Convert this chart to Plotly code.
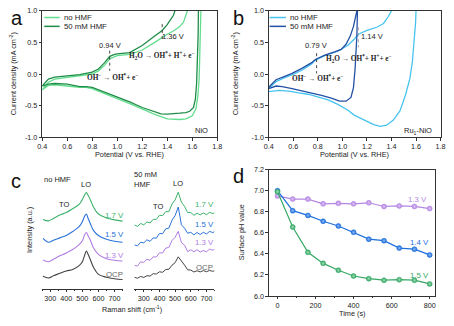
import plotly.graph_objects as go

# ---------------- data ----------------
# Panel a: NiO CV (forward branch then reverse branch)
a_noHMF_V = [0.40,0.45,0.50,0.60,0.70,0.80,0.85,0.90,0.94,0.98,1.00,1.10,1.20,1.30,1.36,1.40,1.45,1.50,1.53,1.55,1.57,
             1.67,1.665,1.66,1.655,1.645,1.63,1.60,1.55,1.50,1.45,1.40,1.30,1.20,1.10,1.00,0.90,0.85,0.80,0.75,0.70,0.60,0.50,0.45,0.40]
a_noHMF_J = [-0.25,-0.13,-0.08,-0.05,-0.03,0.00,0.05,0.14,0.24,0.28,0.29,0.31,0.38,0.50,0.58,0.63,0.68,0.75,0.82,0.92,1.05,
             1.05,0.60,0.20,-0.10,-0.35,-0.55,-0.66,-0.71,-0.72,-0.72,-0.71,-0.64,-0.55,-0.47,-0.39,-0.31,-0.27,-0.23,-0.21,-0.21,-0.19,-0.17,-0.18,-0.25]
a_HMF_V = [0.40,0.45,0.50,0.60,0.70,0.80,0.85,0.90,0.94,0.98,1.00,1.10,1.20,1.30,1.36,1.40,1.43,1.45,1.47,
           1.65,1.647,1.642,1.635,1.625,1.61,1.58,1.55,1.50,1.45,1.40,1.35,1.30,1.20,1.10,1.00,0.90,0.85,0.80,0.75,0.70,0.60,0.50,0.45,0.40]
a_HMF_J = [-0.19,-0.08,-0.05,-0.03,-0.01,0.03,0.08,0.18,0.28,0.31,0.32,0.34,0.45,0.60,0.69,0.78,0.88,0.93,1.05,
           1.05,0.60,0.20,-0.15,-0.40,-0.53,-0.59,-0.61,-0.62,-0.63,-0.635,-0.63,-0.60,-0.53,-0.44,-0.36,-0.29,-0.24,-0.21,-0.20,-0.20,-0.16,-0.15,-0.16,-0.19]

# Panel b: Ru1-NiO CV
b_noHMF_V = [0.40,0.46,0.525,0.59,0.67,0.75,0.78,0.857,0.963,1.043,1.096,1.13,1.20,1.28,1.335,1.375,1.40,1.42,
             1.61,1.60,1.596,1.585,1.57,1.55,1.516,1.47,1.415,1.36,1.31,1.256,1.20,1.15,1.096,1.043,0.963,0.884,0.80,0.72,0.645,0.565,0.485,0.40]
b_noHMF_J = [-0.23,-0.12,-0.06,-0.015,0.06,0.16,0.22,0.29,0.36,0.45,0.55,0.63,0.69,0.74,0.80,0.91,1.0,1.1,
             1.1,1.0,0.80,0.50,0.19,-0.07,-0.32,-0.58,-0.73,-0.81,-0.83,-0.80,-0.75,-0.71,-0.65,-0.57,-0.48,-0.41,-0.36,-0.32,-0.30,-0.27,-0.26,-0.28]
b_HMF_V = [0.40,0.46,0.525,0.59,0.67,0.75,0.78,0.857,0.937,0.99,1.03,1.064,1.09,1.11,1.118,1.12,
           1.124,1.123,1.118,1.104,1.09,1.07,1.03,0.977,0.91,0.83,0.75,0.67,0.59,0.51,0.46,0.40]
b_HMF_J = [-0.21,-0.09,-0.04,0.01,0.09,0.18,0.23,0.30,0.35,0.39,0.47,0.60,0.75,0.91,1.0,1.1,
           1.1,1.0,0.60,0.09,-0.22,-0.37,-0.43,-0.43,-0.38,-0.34,-0.30,-0.26,-0.23,-0.20,-0.19,-0.23]

# Panel c: Raman spectra (intensity, a.u., offset)
c_left_x = [255,290,320,360,400,440,480,500,515,525,535,550,570,600,650,700,750]
c_left_17 = [71.5,70,72.5,76,78.5,82.5,87,92,97,99,96.5,91.5,84,77,73,71,69.7]
c_left_15 = [52,48,50,52.5,55,59,64,69,75,77,73,67,60,55,51,49,48]
c_left_13 = [29.7,28,30.5,34,37,40.5,45.5,49.5,56,58,55,50,42,35.5,31,29.5,28.7]
c_left_ocp = [13,11.3,13.5,16,18.5,20,24,28,35,39,36,30,22,15,12,10.5,9.7]

c_right_x = [240,260,280,300,320,340,360,380,400,420,440,460,480,500,520,540,560,580,600,620,640,660,680,700,720,740,760]
c_right_17 = [65.7,64.3,67.3,65.9,68.9,67.8,71.5,71.5,75.8,75.3,79.5,79.4,87.2,91.5,99.5,89.2,84.9,78.5,78.5,75.7,77.9,76.1,78.1,76.3,78.8,77.4,79.0]
c_right_15 = [45.2,44.3,48.0,47.4,50.5,48.9,52.4,52.2,57.0,56.8,61.8,62.5,70.6,75.4,84.2,66.0,62.4,57.2,58.2,55.6,58.0,55.9,58.2,56.5,59.2,57.9,59.6]
c_right_13 = [24.2,23.5,27.8,27.3,30.5,29.4,33.0,32.8,37.2,36.9,42.0,42.6,49.8,53.1,59.2,47.7,45.0,38.4,40.3,38.2,40.3,37.9,39.6,38.1,41.0,39.8,41.5]
c_right_ocp = [12.0,11.0,12.8,11.8,13.6,13.2,15.7,15.3,17.6,17.1,19.9,20.2,24.4,27.0,33.0,29.1,24.5,19.6,19.4,17.4,18.7,17.5,18.8,17.7,19.0,18.1,19.2]

# Panel d: surface pH vs time
d_time = [0,80,160,240,320,400,480,560,640,720,800]
d_13 = [6.95,6.92,6.92,6.875,6.88,6.875,6.885,6.85,6.855,6.85,6.83]
d_14 = [7.00,6.81,6.765,6.71,6.665,6.605,6.54,6.525,6.455,6.445,6.39]
d_15 = [6.99,6.655,6.415,6.31,6.245,6.19,6.165,6.15,6.155,6.15,6.115]

cv_ticks = [-1.0,-0.5,0.0,0.5,1.0]
cv_ticktext = ["-1.0","-0.5","0.0","0.5","1.0"]
pot_ticks = [0.4,0.6,0.8,1.0,1.2,1.4,1.6,1.8]
a_marks = [0.94, 1.36]
b_marks = [0.79, 1.13]

# ---------------- style ----------------
FONT = "Liberation Sans, Arial, sans-serif"
SERIF = "Liberation Serif, Times New Roman, serif"
LG_A, DG_A = "#62dd8e", "#1f8c47"
LB_B, DB_B = "#48c3f0", "#2450a6"
C_G, C_B, C_P, C_K = "#3bb26b", "#2a72d8", "#b07de2", "#444444"
D_P, D_B, D_G = "#b487e3", "#1f6fdc", "#36a865"
D_Pl, D_Bl, D_Gl = "#dcc4f5", "#8fb8f2", "#9edcb6"

fig = go.Figure()

# panel a
fig.add_trace(go.Scatter(x=a_noHMF_V, y=a_noHMF_J, mode="lines", line=dict(color=LG_A, width=1.3), xaxis="x", yaxis="y"))
fig.add_trace(go.Scatter(x=a_HMF_V, y=a_HMF_J, mode="lines", line=dict(color=DG_A, width=1.3), xaxis="x", yaxis="y"))
fig.add_trace(go.Scatter(x=[a_marks[0]]*2, y=[0.37, 0.05], mode="lines", line=dict(color="#333", width=0.9, dash="dot"), xaxis="x", yaxis="y"))
fig.add_trace(go.Scatter(x=[a_marks[1]]*2, y=[0.79, 0.51], mode="lines", line=dict(color="#333", width=0.9, dash="dot"), xaxis="x", yaxis="y"))
# panel b
fig.add_trace(go.Scatter(x=b_noHMF_V, y=b_noHMF_J, mode="lines", line=dict(color=LB_B, width=1.3), xaxis="x2", yaxis="y2"))
fig.add_trace(go.Scatter(x=b_HMF_V, y=b_HMF_J, mode="lines", line=dict(color=DB_B, width=1.3), xaxis="x2", yaxis="y2"))
fig.add_trace(go.Scatter(x=[b_marks[0]]*2, y=[0.33, 0.01], mode="lines", line=dict(color="#333", width=0.9, dash="dot"), xaxis="x2", yaxis="y2"))
fig.add_trace(go.Scatter(x=[b_marks[1]]*2, y=[0.74, 0.42], mode="lines", line=dict(color="#999", width=0.9, dash="dot"), xaxis="x2", yaxis="y2"))
# panel c
for ys, col in [(c_left_17, C_G), (c_left_15, C_B), (c_left_13, C_P), (c_left_ocp, C_K)]:
    fig.add_trace(go.Scatter(x=c_left_x, y=ys, mode="lines", line=dict(color=col, width=1.1, shape="spline"), xaxis="x3", yaxis="y3"))
for ys, col in [(c_right_17, C_G), (c_right_15, C_B), (c_right_13, C_P), (c_right_ocp, C_K)]:
    fig.add_trace(go.Scatter(x=c_right_x, y=ys, mode="lines", line=dict(color=col, width=1.0), xaxis="x4", yaxis="y4"))
# panel d
for ys, col, lt in [(d_13, D_P, D_Pl), (d_14, D_B, D_Bl), (d_15, D_G, D_Gl)]:
    fig.add_trace(go.Scatter(x=d_time, y=ys, mode="lines+markers", line=dict(color=col, width=1.2),
                             marker=dict(size=5, color=col, line=dict(color=col, width=0.5),
                                         gradient=dict(type="radial", color=lt)),
                             xaxis="x5", yaxis="y5"))

ax_common = dict(showline=True, linecolor="#333", linewidth=0.8, ticks="outside", ticklen=2.5,
                 tickwidth=0.8, tickcolor="#333", tickfont=dict(size=7.2, family=FONT, color="#222"),
                 showgrid=False, zeroline=False)

fig.update_layout(
    width=454, height=326, margin=dict(l=0, r=0, t=0, b=0),
    paper_bgcolor="white", plot_bgcolor="white", showlegend=False,
    xaxis=dict(domain=[0.0837, 0.478], range=[0.4, 1.8], tickvals=pot_ticks, tickformat=".1f", mirror=True,
               anchor="y", **ax_common),
    yaxis=dict(domain=[0.5798, 0.9785], range=[-1.0, 1.0], tickvals=cv_ticks, ticktext=cv_ticktext, mirror=True,
               anchor="x", **ax_common),
    xaxis2=dict(domain=[0.594, 0.981], range=[0.4, 1.8], tickvals=pot_ticks, tickformat=".1f", mirror=True,
                anchor="y2", **ax_common),
    yaxis2=dict(domain=[0.5798, 0.9785], range=[-1.0, 1.0], tickvals=cv_ticks, ticktext=cv_ticktext, mirror=True,
                anchor="x2", **ax_common),
    xaxis3=dict(domain=[0.0837, 0.2665], range=[250, 755], tickvals=[300,400,500,600,700],
                minor=dict(dtick=50, ticks="outside", ticklen=1.5, tickcolor="#333"), anchor="y3", **ax_common),
    yaxis3=dict(domain=[0.1012, 0.4632], range=[0, 118], visible=False, anchor="x3"),
    xaxis4=dict(domain=[0.2914, 0.4714], range=[240, 750], tickvals=[300,400,500,600,700],
                minor=dict(dtick=50, ticks="outside", ticklen=1.5, tickcolor="#333"), anchor="y4", **ax_common),
    yaxis4=dict(domain=[0.1012, 0.4632], range=[0, 118], visible=False, anchor="x4"),
    xaxis5=dict(domain=[0.594, 0.9685], range=[-46, 828], tickvals=[0,200,400,600,800], mirror=True,
                minor=dict(dtick=100, ticks="outside", ticklen=1.5, tickcolor="#333"),
                anchor="y5", **ax_common),
    yaxis5=dict(domain=[0.0788, 0.4776], range=[6.0, 7.2], tickvals=[6.0,6.2,6.4,6.6,6.8,7.0,7.2], tickformat=".1f",
                mirror=True, anchor="x5", **ax_common),
)

ann = []
def txt(x, y, s, xref, yref, size=7.5, color="#222", family=FONT, xanchor="center", yanchor="middle", **kw):
    ann.append(dict(x=x, y=y, text=s, xref=xref, yref=yref, showarrow=False, xanchor=xanchor, yanchor=yanchor,
                    font=dict(size=size, color=color, family=family), **kw))

W, H = 454.0, 326.0
def P(px, py):
    return px / W, 1 - py / H

# axis titles (paper positions)
for (px, py), s, ang in [((127, 155), "Potential (V vs. RHE)", 0), ((357, 155), "Potential (V vs. RHE)", 0),
                         ((8.5, 72), "Current density (mA cm<sup>-2</sup>)", -90),
                         ((235.5, 72), "Current density (mA cm<sup>-2</sup>)", -90),
                         ((130, 314), "Raman shift (cm<sup>-1</sup>)", 0),
                         ((25, 232), "Intensity (a.u.)", -90),
                         ((355, 318), "Time (s)", 0),
                         ((242, 235), "Surface pH value", -90)]:
    x, y = P(px, py)
    txt(x, y, s, "paper", "paper", size=7.3, textangle=ang)

# panel letters
for (px, py), s in [((4, 1), "a"), ((231, 1), "b"), ((4, 169), "c"), ((231, 163), "d")]:
    x, y = P(px, py)
    txt(x, y, s, "paper", "paper", size=20, color="#111", xanchor="left", yanchor="top")

# panel a legend + labels
fig.add_shape(type="line", xref="x domain", yref="y domain", x0=0.012, x1=0.1, y0=0.947, y1=0.947, line=dict(color=LG_A, width=1.5))
fig.add_shape(type="line", xref="x domain", yref="y domain", x0=0.012, x1=0.1, y0=0.877, y1=0.877, line=dict(color=DG_A, width=1.5))
txt(0.112, 0.947, "no HMF", "x domain", "y domain", size=7.8, xanchor="left")
txt(0.112, 0.877, "50 mM HMF", "x domain", "y domain", size=7.8, xanchor="left")
txt(0.94, 0.45, "0.94 V", "x", "y", size=7.5)
txt(1.445, 0.60, "1.36 V", "x", "y", size=7.5)
txt(0.965, -0.04, "<b>OH<sup>−</sup> → OH<sup>*</sup>+ e<sup>−</sup></b>", "x", "y", size=7.3, family=SERIF)
txt(1.36, 0.29, "<b>H<sub>2</sub>O → OH<sup>*</sup>+ H<sup>+</sup>+ e<sup>−</sup></b>", "x", "y", size=7.3, family=SERIF)
txt(1.745, -0.9, "NiO", "x", "y", size=7.5, xanchor="right")

# panel b legend + labels
fig.add_shape(type="line", xref="x2 domain", yref="y2 domain", x0=0.005, x1=0.1, y0=0.947, y1=0.947, line=dict(color=LB_B, width=1.5))
fig.add_shape(type="line", xref="x2 domain", yref="y2 domain", x0=0.005, x1=0.1, y0=0.877, y1=0.877, line=dict(color=DB_B, width=1.5))
txt(0.112, 0.947, "no HMF", "x2 domain", "y2 domain", size=7.8, xanchor="left")
txt(0.112, 0.877, "50 mM HMF", "x2 domain", "y2 domain", size=7.8, xanchor="left")
txt(0.785, 0.45, "0.79 V", "x2", "y2", size=7.5)
txt(1.24, 0.60, "1.14 V", "x2", "y2", size=7.5)
txt(0.80, -0.065, "<b>OH<sup>−</sup> → OH<sup>*</sup>+ e<sup>−</sup></b>", "x2", "y2", size=7.3, family=SERIF)
txt(1.136, 0.24, "<b>H<sub>2</sub>O → OH<sup>*</sup>+ H<sup>+</sup>+ e<sup>−</sup></b>", "x2", "y2", size=7.3, family=SERIF)
txt(1.745, -0.9, "Ru<sub>1</sub>-NiO", "x2", "y2", size=7.5, xanchor="right")

# panel c labels
txt(250, 113, "no HMF", "x3", "y3", size=7.5, xanchor="left")
txt(388, 86.3, "TO", "x3", "y3", size=7.5)
txt(521, 107, "LO", "x3", "y3", size=7.5)
for y, s, col in [(75.3, "1.7 V", C_G), (55.7, "1.5 V", C_B), (34.7, "1.3 V", C_P), (14.7, "OCP", "#666")]:
    txt(698, y, s, "x3", "y3", size=7.8, color=col)
txt(-0.03, 113, "50 mM<br>HMF", "x4 domain", "y4", size=7.5, xanchor="left", yanchor="middle", align="left")
txt(392, 84.7, "TO", "x4", "y4", size=7.5)
txt(517, 108.7, "LO", "x4", "y4", size=7.5)
for y, s, col in [(86.3, "1.7 V", C_G), (66.3, "1.5 V", C_B), (48, "1.3 V", C_P), (22, "OCP", "#666")]:
    txt(689, y, s, "x4", "y4", size=7.8, color=col)

# panel d labels
txt(737, 6.914, "1.3 V", "x5", "y5", size=7.8, color=D_P)
txt(745, 6.504, "1.4 V", "x5", "y5", size=7.8, color=D_B)
txt(745, 6.196, "1.5 V", "x5", "y5", size=7.8, color=D_G)

fig.update_layout(annotations=ann)
fig.write_html("out.html")
